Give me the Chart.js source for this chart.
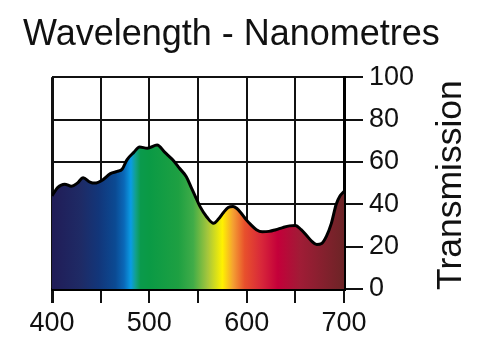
<!DOCTYPE html>
<html>
<head>
<meta charset="utf-8">
<script src="https://cdn.jsdelivr.net/npm/chart.js@4"></script>
<style>
  html, body { margin: 0; padding: 0; background: #fff; }
  canvas { display: block; }
</style>
</head>
<body>
<canvas id="canvas" width="500" height="352"></canvas>
<script>
// curve: wavelength (nm) -> transmission (%)
let wavelengths = [400, 406, 413, 420, 426, 432, 439, 444, 452, 460, 467, 472, 477, 484, 490, 498, 508, 516, 524, 531, 538, 543, 547, 552, 559, 566, 571, 576, 581, 586, 590, 594, 599, 604, 610, 616, 623, 630, 637, 644, 650, 656, 662, 667, 672, 677, 682, 687, 692, 696, 700]
let transmission = [44, 48, 49.5, 48.5, 50, 52.5, 50.5, 50, 51.5, 54.5, 55.5, 56.5, 61, 64.5, 67, 66.5, 68, 64.5, 61, 57, 53, 48, 44, 39, 34, 31, 33, 36, 38.5, 39, 38, 36, 33, 30.5, 28, 27, 27.2, 28, 29, 29.8, 30, 28, 25, 22.5, 21, 21.5, 25, 31, 40, 44, 46]

let xTicks = [400, 500, 600, 700]
let yTicks = [0, 20, 40, 60, 80, 100]

// spectrum colours along the x axis
let spectrum = [
  [400, '#211c57'], [430, '#1e2b66'], [448, '#12367a'], [465, '#0b4a93'],
  [474, '#0a68b8'], [481, '#0a9ce4'], [486, '#12a08c'], [491, '#0a9a4c'],
  [500, '#0a9a45'], [530, '#1ea042'], [545, '#40ac48'], [560, '#a6c63c'],
  [575, '#fff200'], [586, '#f4a032'], [598, '#e8502c'], [615, '#d8283a'],
  [632, '#c4003a'], [655, '#a01c36'], [700, '#6c2426']
]

let spectrumFill = function(context) {
  let chart = context.chart
  let area = chart.chartArea
  if (!area) return null
  let g = chart.ctx.createLinearGradient(area.left, 0, area.right, 0)
  for (let s of spectrum) {
    g.addColorStop((s[0] - 400) / 300, s[1])
  }
  return g
}

let sideTitle = {
  id: 'sideTitle',
  afterDraw(chart) {
    let ctx = chart.ctx
    let area = chart.chartArea
    ctx.save()
    ctx.translate(area.right + 107, (area.top + area.bottom) / 2 + 2)
    ctx.rotate(-Math.PI / 2)
    ctx.font = '35.5px "Liberation Sans", Arial, sans-serif'
    ctx.fillStyle = '#111'
    ctx.textAlign = 'center'
    ctx.textBaseline = 'middle'
    ctx.fillText('Transmission', 0, 0)
    ctx.restore()
  }
}

let points = wavelengths.map((w, i) => ({ x: w, y: transmission[i] }))

new Chart(document.getElementById('canvas').getContext('2d'), {
  type: 'line',
  data: {
    datasets: [{
      data: points,
      borderColor: '#000',
      borderWidth: 3,
      pointRadius: 0,
      tension: 0.4,
      cubicInterpolationMode: 'monotone',
      fill: 'origin',
      backgroundColor: spectrumFill
    }]
  },
  options: {
    responsive: false,
    animation: false,
    devicePixelRatio: 1,
    layout: { padding: { left: 23, top: 0, right: 0, bottom: 0 } },
    plugins: {
      legend: { display: false },
      tooltip: { enabled: false },
      title: {
        display: true,
        text: 'Wavelength - Nanometres',
        align: 'start',
        color: '#111',
        font: { family: '"Liberation Sans", Arial, sans-serif', size: 36, weight: 'normal', lineHeight: 1.2 },
        padding: { top: 13, bottom: 21 }
      }
    },
    scales: {
      x: {
        type: 'linear',
        position: 'bottom',
        min: 400,
        max: 700,
        z: 1,
        afterFit: s => { s.height = 63 },
        afterBuildTicks: s => { s.ticks = [400, 450, 500, 550, 600, 650, 700].map(v => ({ value: v })) },
        ticks: {
          autoSkip: false,
          maxRotation: 0,
          padding: 4,
          color: '#111',
          font: { family: '"Liberation Sans", Arial, sans-serif', size: 27 },
          callback: v => xTicks.includes(v) ? String(v) : ''
        },
        grid: {
          color: '#111',
          lineWidth: c => c.tick && c.tick.value === 400 ? 3 : 2,
          tickLength: 14,
          tickColor: '#111'
        },
        border: { color: '#000', width: 3 }
      },
      yLeft: {
        position: 'left',
        min: 0,
        max: 100,
        afterFit: s => { s.width = 29 },
        ticks: { display: false },
        grid: { display: false },
        border: { display: false }
      },
      y: {
        position: 'right',
        min: 0,
        max: 100,
        z: 1,
        afterFit: s => { s.width = 156 },
        afterBuildTicks: s => { s.ticks = yTicks.map(v => ({ value: v })) },
        ticks: {
          padding: 6,
          color: '#111',
          font: { family: '"Liberation Sans", Arial, sans-serif', size: 27 }
        },
        grid: { color: '#111', lineWidth: 2, tickLength: 19, tickColor: '#111' },
        border: { color: '#000', width: 3 }
      }
    }
  },
  plugins: [sideTitle]
})
</script>
</body>
</html>
